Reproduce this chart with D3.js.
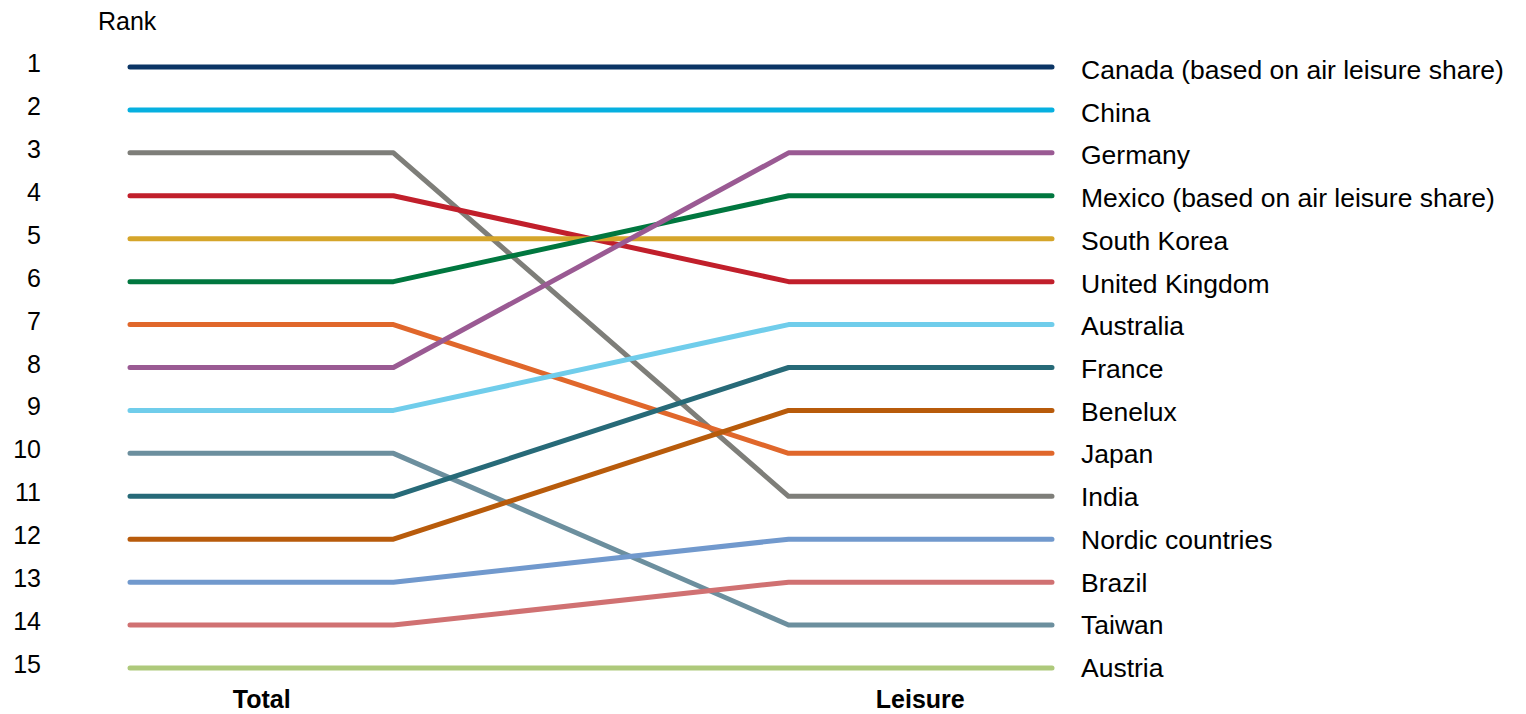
<!DOCTYPE html>
<html>
<head>
<meta charset="utf-8">
<script src="https://cdn.jsdelivr.net/npm/d3@7"></script>
<style>
  html, body { margin: 0; padding: 0; background: #fff; }
  svg { display: block; font-family: "Liberation Sans", Arial, sans-serif; }
</style>
</head>
<body>
<svg id="chart" width="1526" height="714"></svg>
<script>
// Market ranking: total travel vs. leisure travel
const countries = [
  "Canada (based on air leisure share)", "China", "India", "United Kingdom",
  "South Korea", "Mexico (based on air leisure share)", "Japan", "Germany",
  "Australia", "Taiwan", "France", "Benelux", "Nordic countries", "Brazil", "Austria"
];
const totalRank   = [1, 2, 3, 4, 5, 6, 7, 8, 9, 10, 11, 12, 13, 14, 15];
const leisureRank = [1, 2, 11, 6, 5, 4, 10, 3, 7, 14, 8, 9, 12, 13, 15];
const columns = ["Total", "Leisure"];
const rankTicks = d3.range(1, 16);
const palette = [
  "#0b3565", "#06b0e0", "#7e7e79", "#c11f2b", "#d5a52a", "#00773f", "#e0672b",
  "#9a5a93", "#70cdeb", "#6c8f9e", "#276a78", "#b85b0b", "#7199cd", "#d07172", "#aec97b"
];

const rows = countries.map((name, i) => ({
  name, total: totalRank[i], leisure: leisureRank[i], color: palette[i]
}));

const svg = d3.select("#chart");

const x = d3.scaleBand().domain(columns).range([130, 1052])
  .paddingInner(0.6).paddingOuter(0);
const bw = x.bandwidth();
const y = d3.scaleLinear().domain([1, 15]).range([67, 668]);
const yLabel = d3.scaleLinear().domain([1, 15]).range([79, 677]);

// Rank axis
svg.append("text")
  .attr("x", 98).attr("y", 30)
  .attr("font-size", 25).attr("fill", "#000")
  .text("Rank");

svg.append("g").selectAll("text")
  .data(rankTicks)
  .join("text")
  .attr("x", 41)
  .attr("y", d => y(d) + 5)
  .attr("text-anchor", "end")
  .attr("font-size", 25)
  .attr("fill", "#000")
  .text(d => d);

// Rank lines
const line = d3.line();
svg.append("g").selectAll("path")
  .data(rows)
  .join("path")
  .attr("d", d => line([
    [x("Total"), y(d.total)],
    [x("Total") + bw, y(d.total)],
    [x("Leisure"), y(d.leisure)],
    [x("Leisure") + bw, y(d.leisure)]
  ]))
  .attr("fill", "none")
  .attr("stroke", d => d.color)
  .attr("stroke-width", 5)
  .attr("stroke-linecap", "round")
  .attr("stroke-linejoin", "round");

// Country labels ordered by leisure rank
svg.append("g").selectAll("text")
  .data(rows)
  .join("text")
  .attr("x", 1081)
  .attr("y", d => yLabel(d.leisure))
  .attr("font-size", 26.5)
  .attr("fill", "#000")
  .text(d => d.name);

// Column headings
svg.append("g").selectAll("text")
  .data(columns)
  .join("text")
  .attr("x", d => x(d) + bw / 2)
  .attr("y", 708)
  .attr("text-anchor", "middle")
  .attr("font-size", 25)
  .attr("font-weight", "bold")
  .attr("fill", "#000")
  .text(d => d);
</script>
</body>
</html>
